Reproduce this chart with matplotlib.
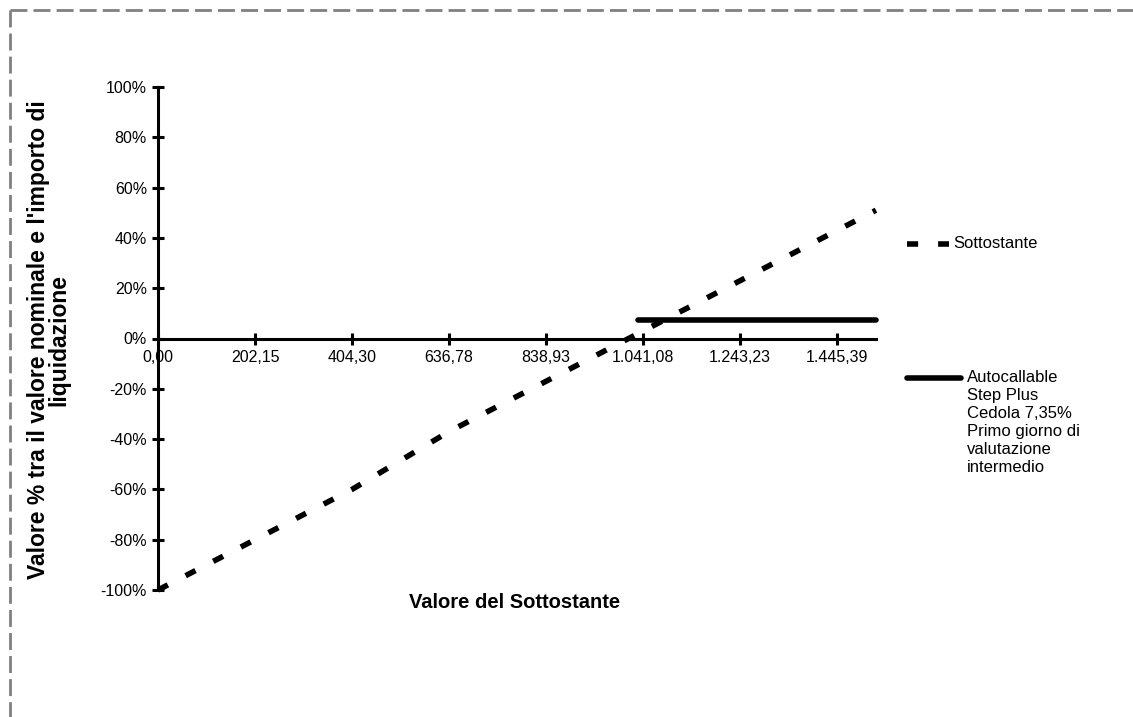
import matplotlib
matplotlib.use("Agg")
import matplotlib.pyplot as plt
from matplotlib.lines import Line2D
from matplotlib.ticker import FuncFormatter

plt.rcParams['font.family'] = ['Liberation Sans', 'DejaVu Sans']

# category axis: one tick label every 10 categories, last category index 74
tick_pos = [0, 10, 20, 30, 40, 50, 60, 70]
tick_labels = ["0,00", "202,15", "404,30", "636,78", "838,93", "1.041,08", "1.243,23", "1.445,39"]
last_cat = 74
y_ticks = [-1.0, -0.8, -0.6, -0.4, -0.2, 0.0, 0.2, 0.4, 0.6, 0.8, 1.0]

# Sottostante (underlying performance) at labelled categories + last one
sott_pos = [0, 10, 20, 30, 40, 50, 60, 70, 74]
sott_val = [-1.00, -0.80, -0.60, -0.37, -0.17, 0.03, 0.23, 0.43, 0.51]

# Autocallable Step Plus: coupon 7,35% from the initial level on
auto_pos = [49.5, 74]
auto_val = [0.0735, 0.0735]

W, H = 1133, 717

def fx(x):
    return x / W

def fy(y):
    return 1 - y / H

fig = plt.figure(figsize=(W / 100, H / 100), dpi=100)
ax = fig.add_axes([fx(158), fy(590), (876 - 158) / W, (590 - 87) / H])
ax.set_xlim(0, last_cat)
ax.set_ylim(-1, 1)

ax.plot(sott_pos, sott_val, color='black', lw=4, dashes=(2.0, 3.6),
        dash_capstyle='butt', clip_on=False, zorder=3)
ax.plot(auto_pos, auto_val, color='black', lw=4, solid_capstyle='round',
        clip_on=False, zorder=3)

for s in ['top', 'right']:
    ax.spines[s].set_visible(False)
ax.spines['bottom'].set_position(('data', 0))
for s in ['left', 'bottom']:
    ax.spines[s].set_linewidth(2.2)

ax.set_xticks(tick_pos, tick_labels)
ax.set_yticks(y_ticks)
ax.yaxis.set_major_formatter(FuncFormatter(lambda v, p: f"{int(round(v * 100))}%"))
ax.tick_params(direction='inout', length=8, width=2.2, labelsize=11.5, pad=4)

# axis titles
fig.text(fx(515), fy(602), "Valore del Sottostante", ha='center', va='center',
         fontsize=14.5, fontweight='bold')
fig.text(fx(49), fy(340), "Valore % tra il valore nominale e l'importo di\nliquidazione",
         rotation=90, ha='center', va='center', multialignment='center',
         fontsize=16.5, fontweight='bold', linespacing=0.85)

# legend drawn by hand so the handle sits on the first text line
fig.add_artist(Line2D([fx(907), fx(949)], [fy(244), fy(244)], color='black', lw=4,
                      dashes=(2.0, 3.6), dash_capstyle='butt'))
fig.text(fx(953), fy(244), "Sottostante", ha='left', va='center', fontsize=12)
fig.add_artist(Line2D([fx(907), fx(961)], [fy(378), fy(378)], color='black', lw=4,
                      solid_capstyle='round'))
fig.text(fx(967), fy(370), "Autocallable\nStep Plus\nCedola 7,35%\nPrimo giorno di\nvalutazione\nintermedio",
         ha='left', va='top', fontsize=12, linespacing=1.25)

# dashed grey frame of the chart area (top and left edges visible)
fig.add_artist(Line2D([fx(9.5), 1], [fy(9.5), fy(9.5)], color='#808080', lw=2,
                      dashes=(6.1, 2.2)))
fig.add_artist(Line2D([fx(9.5), fx(9.5)], [fy(9.5), 0], color='#808080', lw=2,
                      dashes=(6.1, 2.2)))

fig.savefig("out.png", dpi=100)
